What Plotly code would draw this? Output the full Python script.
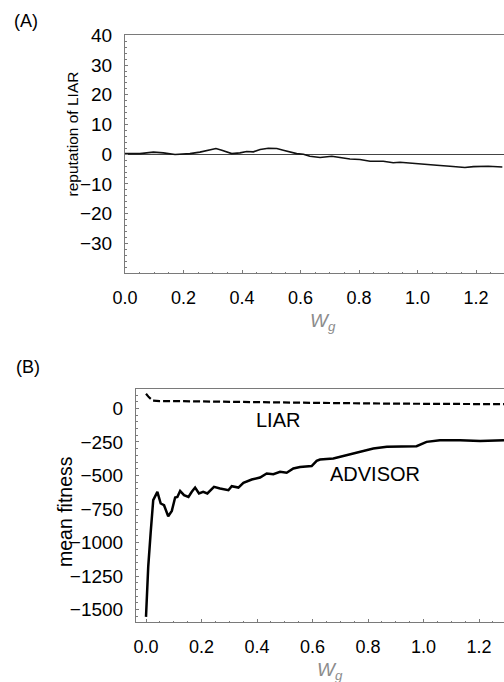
import plotly.graph_objects as go

# Panel A: reputation of LIAR vs Wg
rep_x = [0.0, 0.051, 0.097, 0.131, 0.171, 0.222, 0.256, 0.285, 0.311, 0.331, 0.348, 0.365,
         0.393, 0.416, 0.439, 0.462, 0.49, 0.519, 0.541, 0.564, 0.587, 0.61, 0.632,
         0.667, 0.707, 0.735, 0.769, 0.803, 0.838, 0.883, 0.917, 0.94, 0.986, 1.037,
         1.066, 1.111, 1.162, 1.191, 1.242, 1.29]
rep_y = [0.2, 0.2, 0.7, 0.45, -0.1, 0.2, 0.7, 1.35, 1.9, 1.35, 0.7, 0.2,
         0.45, 0.9, 0.8, 1.6, 2.0, 1.9, 1.35, 0.7, 0.2, 0.0, -0.7,
         -1.1, -0.7, -1.1, -1.6, -1.8, -2.4, -2.4, -2.9, -2.7, -3.0, -3.3,
         -3.7, -4.05, -4.5, -4.2, -4.05, -4.3]

# Panel B: mean fitness
adv_x = [0.0, 0.008, 0.017, 0.026, 0.041, 0.053, 0.065, 0.08, 0.093, 0.105, 0.113, 0.123,
         0.137, 0.153, 0.165, 0.177, 0.191, 0.206, 0.221, 0.245, 0.267, 0.297, 0.309,
         0.333, 0.351, 0.381, 0.411, 0.435, 0.459, 0.483, 0.507, 0.531, 0.555, 0.597,
         0.615, 0.627, 0.675, 0.723, 0.771, 0.819, 0.868, 0.915, 0.975, 1.011, 1.059,
         1.132, 1.204, 1.29]
adv_y = [-1555, -1182, -921, -684, -622, -709, -722, -804, -764, -664, -660, -615,
         -647, -660, -622, -590, -634, -622, -634, -585, -597, -610, -580,
         -590, -555, -530, -515, -485, -490, -473, -480, -448, -436, -430,
         -391, -381, -373, -348, -324, -299, -286, -286, -281, -249, -237,
         -237, -242, -237]
liar_x = [0.0, 0.01, 0.025, 0.05, 0.1, 0.3, 0.6, 0.9, 1.29]
liar_y = [110, 85, 58, 55, 55, 48, 42, 36, 32]

W, H = 504, 682
FONT = "Liberation Sans, Arial, sans-serif"

fig = go.Figure()
fig.add_trace(go.Scatter(x=rep_x, y=rep_y, mode="lines",
                         line=dict(color="#111", width=1.6),
                         xaxis="x", yaxis="y", showlegend=False))
fig.add_trace(go.Scatter(x=liar_x, y=liar_y, mode="lines",
                         line=dict(color="#000", width=2.2, dash="7px,3px"),
                         xaxis="x2", yaxis="y2", showlegend=False))
fig.add_trace(go.Scatter(x=adv_x, y=adv_y, mode="lines",
                         line=dict(color="#000", width=2.5),
                         xaxis="x2", yaxis="y2", showlegend=False))

frame = "#7a7a7a"
common_x = dict(showgrid=False, zeroline=False, showline=True, linecolor=frame, linewidth=1,
                mirror=True, ticks="inside", ticklen=3, tickcolor=frame, automargin=False,
                tickvals=[0, 0.2, 0.4, 0.6, 0.8, 1.0, 1.2],
                ticktext=["0.0", "0.2", "0.4", "0.6", "0.8", "1.0", "1.2"],
                minor=dict(ticks="inside", ticklen=1.5, dtick=0.05, tickcolor=frame),
                tickfont=dict(family=FONT, size=18, color="#000"), ticklabelstandoff=8)
common_y = dict(showgrid=False, showline=True, linecolor=frame, linewidth=1, automargin=False,
                mirror=False, ticks="inside", ticklen=3, tickcolor=frame,
                tickfont=dict(family=FONT, size=19, color="#000"), ticklabelstandoff=8)

def dom_x(left):
    return [left / W, 1.0]

def dom_y(top, bottom):
    return [1 - bottom / H, 1 - top / H]

fig.update_layout(
    width=W, height=H,
    margin=dict(l=0, r=0, t=0, b=0, autoexpand=False),
    paper_bgcolor="white", plot_bgcolor="white",
    xaxis=dict(domain=dom_x(125), range=[0, (504 - 125) / 292.5], anchor="y", **common_x),
    yaxis=dict(domain=dom_y(34.5, 273), range=[-40, 40.3], anchor="x",
               tickvals=[-30, -20, -10, 0, 10, 20, 30, 40],
               minor=dict(ticks="inside", ticklen=1.5, dtick=2, tickcolor=frame),
               zeroline=True, zerolinecolor="#444", zerolinewidth=1, **common_y),
    xaxis2=dict(domain=dom_x(136), range=[-10 / 277.5, (504 - 146) / 277.5], anchor="y2", **common_x),
    yaxis2=dict(domain=dom_y(388.5, 622), range=[-1593, 149], anchor="x2",
                tickvals=[-1500, -1250, -1000, -750, -500, -250, 0],
                minor=dict(ticks="inside", ticklen=1.5, dtick=50, tickcolor=frame),
                zeroline=False, **common_y),
)

ann = []
ann.append(dict(text="(A)", x=26, y=21, font=dict(size=18)))
ann.append(dict(text="(B)", x=28, y=367, font=dict(size=18)))
ann.append(dict(text="reputation of LIAR", x=72, y=134.5, textangle=-90, font=dict(size=15.5)))
ann.append(dict(text="mean fitness", x=65, y=512, textangle=-90, font=dict(size=19.5)))
ann.append(dict(text="<i>W<sub>g</sub></i>", x=323, y=322, font=dict(size=19, color="#8c8c8c")))
ann.append(dict(text="<i>W<sub>g</sub></i>", x=330, y=671, font=dict(size=19, color="#8c8c8c")))
ann.append(dict(text="LIAR", x=277.5, y=419.5, font=dict(size=20)))
ann.append(dict(text="ADVISOR", x=375, y=474, font=dict(size=20)))

for a in ann:
    f = dict(family=FONT, color="#000")
    f.update(a.pop("font"))
    fig.add_annotation(xref="paper", yref="paper", x=a.pop("x") / W, y=1 - a.pop("y") / H,
                       xanchor="center", yanchor="middle", showarrow=False, font=f, **a)

fig.write_html("out.html")
